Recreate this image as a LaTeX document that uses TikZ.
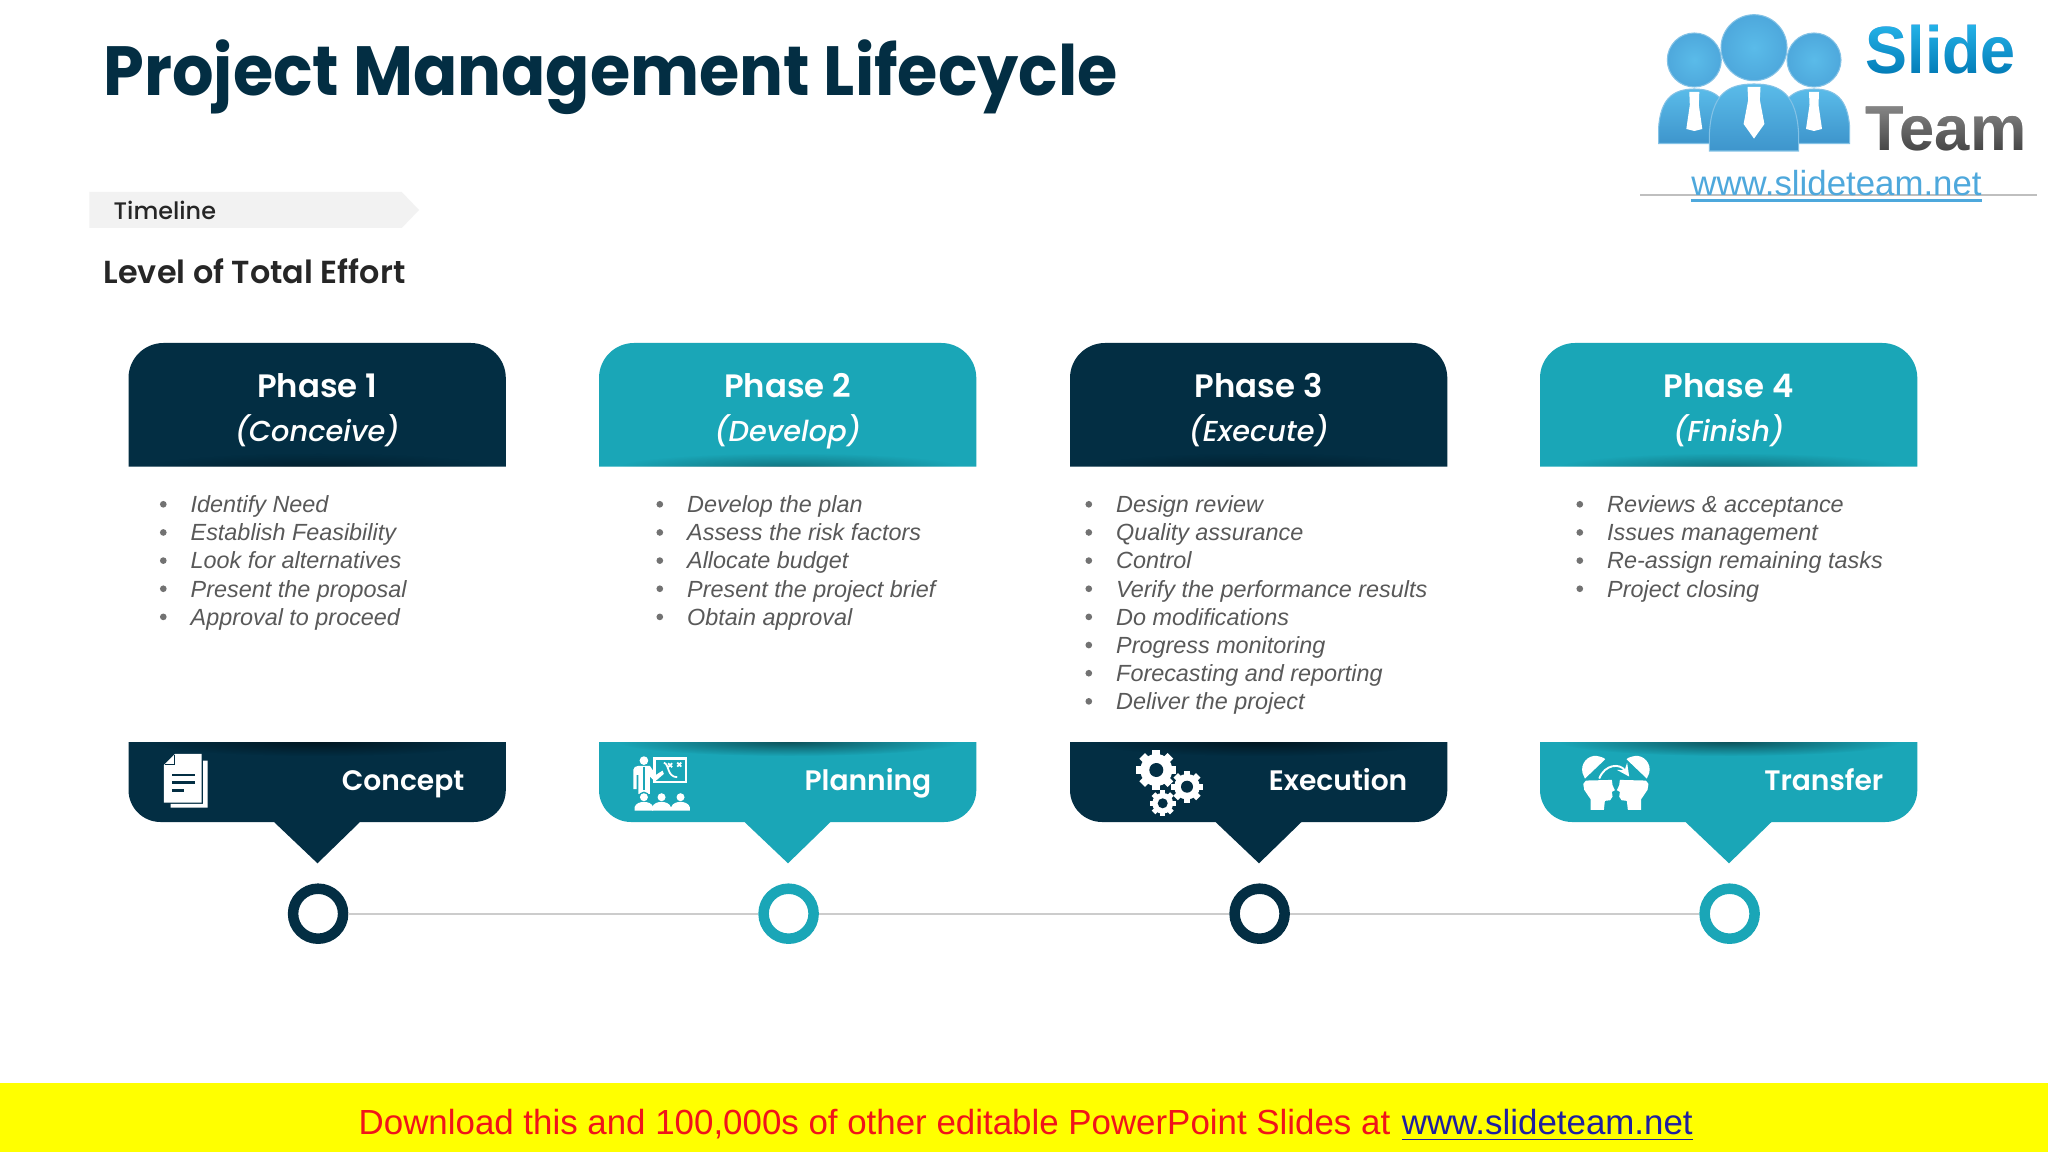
\documentclass[tikz,border=0pt]{standalone}
\usepackage{fontspec}
\usepackage{xcolor}
\usetikzlibrary{fadings}
\setmainfont{Liberation Sans}
\newfontfamily\gothic{Poppins}[UprightFont=* Medium,BoldFont=* SemiBold,ItalicFont=* Medium Italic]
\newfontfamily\gothicheavy{Poppins}[UprightFont=* Bold,FakeStretch=0.9375]
\newfontfamily\logofont{Liberation Sans}[UprightFont=* Bold,FakeStretch=0.94]

\definecolor{navyband}{HTML}{032E43}
\definecolor{tealband}{HTML}{1AA6B7}
\definecolor{logoblue}{HTML}{4EA8DC}
\definecolor{logolight}{HTML}{5ABBE9}
\definecolor{logodeep}{HTML}{3E95CC}
\definecolor{slideblue}{HTML}{0078B4}
\definecolor{slidetop}{HTML}{28B8EC}
\definecolor{bodygray}{HTML}{595959}
\definecolor{bannerfill}{HTML}{FFFF00}
\definecolor{bannerred}{HTML}{F0141A}
\definecolor{bannerlink}{HTML}{1F1FA0}

\tikzfading[name=edgefade, inner color=transparent!50, outer color=transparent!100]
\tikzfading[name=upfade, top color=transparent!0, bottom color=transparent!100]

\tikzset{
    phasetext/.style={anchor=base, text=white, inner sep=0pt, font=\gothic\bfseries\fontsize{9.2}{11}\selectfont},
    tagtext/.style={anchor=base east, text=white, inner sep=0pt, font=\gothic\bfseries\fontsize{8}{10}\selectfont},
    itemtext/.style={anchor=base west, text=bodygray, inner sep=0pt, font=\itshape\fontsize{6.65}{8}\selectfont},
    itemdot/.style={circle, fill=bodygray!85, inner sep=0pt, minimum size=1.9pt},
    ring/.style={circle, draw=#1, line width=10.5*0.01cm, fill=white, inner sep=0pt, minimum size=0.5cm},
    timeline/.style={draw=black!20, line width=0.6pt},
    iconzoom/.style={shift={#1}, x=0.003333cm, y=-0.003333cm},
}

\newcommand{\itemlist}[3]{%
    \foreach \entry [count=\n] in {#3} {
        \node[itemdot] (dot#1\n) at (#2-26.7,{504.3+28.15*(\n-1)}) {};
        \node[itemtext] (item#1\n) at (#2,{512.6+28.15*(\n-1)}) {\entry};
    }
}
\newcommand{\gearicon}[4]{%
    \foreach \a in {0,45,...,315} {
        \fill[white, rotate around={\a:(#1,#2)}] (#1-#3*.2,#2) rectangle (#1+#3*.2,#2-#3);
    }
    \fill[white] (#1,#2) circle (#3*.8);
    \fill[navyband] (#1,#2) circle (#4);
}
\newcommand{\logoperson}[7]{%
    \shade[top color=logolight, bottom color=logodeep, draw=logoblue!70!white, line width=.3pt]
        (#1-#4,#6) -- (#1-#4,#6-16) .. controls (#1-#4+2,#5+10) and (#1-#4*.6,#5) .. (#1,#5)
        .. controls (#1+#4*.6,#5) and (#1+#4-2,#5+10) .. (#1+#4,#6-16) -- (#1+#4,#6) -- cycle;
    \shade[inner color=logolight, outer color=logoblue, draw=logoblue!70!white, line width=.3pt] (#1,#2) circle (#3);
    \fill[white] (#1-#7*.5,#5+3) -- (#1+#7*.5,#5+3) -- (#1+#7*.45,#5+16) -- (#1+#7*.8,#5+40) -- (#1,#5+#7*4.2)
        -- (#1-#7*.8,#5+40) -- (#1-#7*.45,#5+16) -- cycle;
}

\begin{document}
\begin{tikzpicture}[x=0.01cm, y=-0.01cm]
    \useasboundingbox (0,0) rectangle (2048,1152);
    \fill[white] (0,0) rectangle (2048,1152);

    % heading
    \node[anchor=base west, inner sep=0pt, text=navyband, font=\gothicheavy\fontsize{19.8}{24}\selectfont] (title) at (103,95.7) {Project Management Lifecycle};
    \fill[black!5] (89.3,192) -- (401.7,192) -- (419,210) -- (401.7,228) -- (89.3,228) -- cycle;
    \node[anchor=base west, inner sep=0pt, text=black!85, font=\gothic\fontsize{6.8}{8}\selectfont] (timelabel) at (113,219.3) {Timeline};
    \node[anchor=base west, inner sep=0pt, text=black!85, font=\gothic\bfseries\fontsize{9.05}{11}\selectfont] (effort) at (103,284) {Level of Total Effort};

    % phase columns
    \foreach \i/\xl/\tone/\phase/\sub/\tag/\tagx in {
        1/128.5/navyband/Phase 1/Conceive/Concept/465,
        2/599/tealband/Phase 2/Develop/Planning/932,
        3/1070/navyband/Phase 3/Execute/Execution/1408,
        4/1540/tealband/Phase 4/Finish/Transfer/1884} {
        \fill[\tone] (\xl,466.7) -- (\xl,378) arc (180:270:35) -- (\xl+342.3,343) arc (270:360:35) -- (\xl+377.3,466.7) -- cycle;
        \fill[\tone] (\xl,742) -- (\xl,790) arc (180:90:32) -- (\xl+145.5,822) -- (\xl+189,863.3) -- (\xl+231.5,822)
            -- (\xl+345.3,822) arc (90:0:32) -- (\xl+377.3,742) -- cycle;
        \begin{scope}
            \clip (\xl,343) rectangle (\xl+377.3,466.7);
            \fill[black, opacity=.6, path fading=edgefade] (\xl+190,467) ellipse (170 and 14);
        \end{scope}
        \begin{scope}
            \clip (\xl,742) rectangle (\xl+377.3,800);
            \fill[black, path fading=edgefade] (\xl+190,742) ellipse (170 and 14);
        \end{scope}
        \node[phasetext] (phase\i) at (\xl+188.7,397.5) {\phase};
        \node[phasetext, font=\gothic\itshape\fontsize{8.2}{10}\selectfont] (sub\i) at (\xl+188.7,442) {(\sub)};
        \node[tagtext] (tag\i) at (\tagx,790) {\tag};
        \node[ring=\tone] (ring\i) at (\xl+189.6,913.7) {};
    }
    \draw[timeline] (ring1) -- (ring2);
    \draw[timeline] (ring2) -- (ring3);
    \draw[timeline] (ring3) -- (ring4);

    % bullet lists
    \itemlist{a}{190}{Identify Need,Establish Feasibility,Look for alternatives,Present the proposal,Approval to proceed}
    \itemlist{b}{686.5}{Develop the plan,Assess the risk factors,Allocate budget,Present the project brief,Obtain approval}
    \itemlist{c}{1115.5}{Design review,Quality assurance,Control,Verify the performance results,Do modifications,Progress monitoring,Forecasting and reporting,Deliver the project}
    \itemlist{d}{1606.5}{Reviews \& acceptance,Issues management,Re-assign remaining tasks,Project closing}

    % document icon
    \begin{scope}[iconzoom={(110,720)}]
        \fill[white] (182,252) -- (182,263) -- (293,263) -- (293,122) -- (280,122) -- (280,252) -- cycle;
        \fill[white] (162,135) -- (195,102) -- (275,102) -- (275,248) -- (162,248) -- cycle;
        \draw[navyband, line width=.3pt] (195,104) -- (195,135) -- (164,135);
        \draw[navyband, line width=.8pt] (187,165) -- (255,165) (187,188) -- (255,188) (187,211) -- (222,211);
    \end{scope}

    % presenter icon
    \begin{scope}[iconzoom={(590,720)}]
        \draw[white, line width=.65pt] (194,116) rectangle (289,187);
        \draw[white, line width=.5pt] (222,128) .. controls (240,135) and (230,170) .. (262,172);
        \draw[white, line width=.5pt] (235,130) -- (247,142) (247,130) -- (235,142) (262,128) -- (274,140) (274,128) -- (262,140);
        \fill[white] (162,122) circle (13);
        \fill[white] (130,150) to[out=90,in=180] (145,138) -- (180,138) -- (198,165) -- (218,152) -- (222,162) -- (195,185) -- (180,170) -- (180,222) -- (145,222) -- (145,165) -- (140,165) -- (140,208) -- (130,208) -- cycle;
        \draw[tealband, line width=.4pt] (162,140) -- (162,210);
        \foreach \hx in {162,215,272} {
            \fill[tealband] (\hx,232) circle (17);
            \fill[white] (\hx,232) circle (12);
            \fill[white] (\hx-28,272) -- (\hx-28,262) .. controls (\hx-25,250) and (\hx-10,246) .. (\hx,246) .. controls (\hx+10,246) and (\hx+25,250) .. (\hx+28,262) -- (\hx+28,272) -- cycle;
        }
    \end{scope}

    % gears icon
    \gearicon{1156.3}{770}{20}{7}
    \gearicon{1187}{786.7}{16}{6}
    \gearicon{1162.7}{803.3}{13}{5}

    % transfer icon
    \begin{scope}[iconzoom={(1530,720)}]
        \foreach \side in {1,-1} {
            \begin{scope}[shift={(258,258)}, xscale=\side]
                \fill[white] (-100,-98) .. controls (-108,-128) and (-83,-153) .. (-58,-150) .. controls (-46,-148) and (-36,-145) .. (-32,-140) -- (-93,-82) -- cycle;
                \fill[white] (-90,-76) -- (-12,-78) -- (-10,-62) -- (-3,-47) -- (-12,-42) -- (-10,-28) -- (-17,-17) -- (-33,-15) -- (-36,12) -- (-76,12) -- (-76,-20) -- (-95,-48) -- (-98,-66) -- cycle;
            \end{scope}
        }
        \draw[white, line width=.55pt, -stealth] (208,176) .. controls (225,132) and (270,130) .. (298,170);
    \end{scope}

    % logo
    \logoperson{1694.3}{60}{27}{35.7}{89}{143.5}{10}
    \logoperson{1814}{60}{27}{35.7}{89}{143.5}{10}
    \logoperson{1754}{47.7}{33}{44.7}{84}{151}{13}
    \node[anchor=base west, inner sep=0pt, text=black!75, font=\bfseries\fontsize{18}{20}\selectfont] (logoteam) at (1865,151) {Team};
    \node[anchor=base west, inner sep=0pt, text=slideblue, font=\logofont\fontsize{19}{20}\selectfont] (logoslide) at (1865,74) {Slide};
    \begin{scope}[blend mode=lighten]
        \fill[slidetop, path fading=upfade] (1860,20) rectangle (2020,78);
        \fill[black!45, path fading=upfade] (1860,102) rectangle (2030,155);
    \end{scope}
    \draw[black!25, line width=.3pt] (1640,195) -- (2037,195);
    \node[anchor=base, inner sep=0pt, text=logoblue, font=\fontsize{9.9}{11}\selectfont] (logourl) at (1836.5,196) {www.slideteam.net};
    \draw[logoblue, line width=.6pt] ([yshift=-0.045cm]logourl.base west) -- ([yshift=-0.045cm]logourl.base east);

    % banner
    \fill[bannerfill] (0,1083) rectangle (2048,1152);
    \node[anchor=base west, inner sep=0pt, text=bannerred, font=\fontsize{9.92}{11}\selectfont] (bannertext) at (358,1134.5) {Download this and 100,000s of other editable PowerPoint Slides at};
    \node[anchor=base west, inner sep=0pt, xshift=0.1cm, text=bannerlink, font=\fontsize{9.92}{11}\selectfont] (bannerurl) at (bannertext.base east) {\underline{www.slideteam.net}};
\end{tikzpicture}
\end{document}
